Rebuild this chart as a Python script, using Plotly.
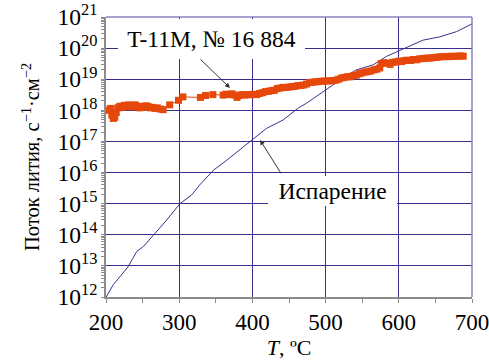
import plotly.graph_objects as go

# Lithium flux from the T-11M limiter, sample No 16 884
t_meas = [204, 206, 208, 210, 212, 214, 216, 219, 222, 225, 228, 231, 234, 237, 240,
          243, 246, 249, 252, 255, 258, 261, 264, 267, 270, 274, 278,
          287, 299, 305, 329, 336, 346,
          360, 364, 368, 372, 376, 379, 382, 386, 390, 394, 398, 402, 406, 410, 414,
          418, 422, 426, 430, 434, 438, 442, 446, 450, 454, 458, 462, 466, 470, 474,
          478, 482, 486, 490, 494, 498, 502, 506, 510, 514, 518, 522, 526, 530, 534,
          538, 542, 546, 550, 554, 558, 562, 566, 570, 574, 576, 580, 584, 588, 592,
          596, 600, 604, 608, 612, 616, 620, 624, 628, 632, 636, 640, 644, 648, 652,
          656, 660, 664, 668, 672, 676, 680, 684, 688]
flux_meas = [1.0e18, 1.15e18, 7.0e17, 5.5e17, 6.0e17, 8.5e17, 1.2e18, 1.35e18, 1.25e18,
             1.45e18, 1.3e18, 1.5e18, 1.35e18, 1.3e18, 1.5e18,
             1.3e18, 1.2e18, 1.35e18, 1.25e18, 1.4e18, 1.3e18, 1.2e18, 1.25e18, 1.15e18,
             1.2e18, 1.1e18, 1.05e18,
             1.5e18, 2.1e18, 2.7e18, 2.6e18, 3.0e18, 3.2e18,
             3.1e18, 3.3e18, 3.2e18, 3.4e18, 3.1e18, 2.6e18, 3.0e18, 3.2e18, 3.1e18,
             3.2e18, 3.2e18, 3.3e18, 3.2e18, 3.5e18, 3.7e18,
             4.0e18, 4.1e18, 4.3e18, 4.4e18, 5.0e18, 5.2e18, 5.5e18, 5.4e18, 5.6e18,
             5.8e18, 5.9e18, 6.2e18, 6.3e18, 6.5e18, 7.0e18,
             7.8e18, 8.0e18, 8.2e18, 8.4e18, 8.6e18, 8.7e18, 8.8e18, 8.9e18, 9.0e18,
             9.3e18, 1.0e19, 1.1e19, 1.15e19, 1.2e19, 1.2e19,
             1.3e19, 1.35e19, 1.5e19, 1.6e19, 1.7e19, 1.75e19, 1.85e19, 2.0e19, 2.1e19,
             2.3e19, 3.2e19, 3.4e19, 3.3e19, 3.0e19, 3.5e19,
             3.6e19, 3.8e19, 3.7e19, 4.0e19, 4.1e19, 4.0e19, 4.3e19, 4.2e19, 4.5e19,
             4.6e19, 4.7e19, 4.8e19, 4.8e19, 5.0e19, 5.1e19,
             5.2e19, 5.3e19, 5.4e19, 5.3e19, 5.5e19, 5.4e19, 5.5e19, 5.6e19, 5.5e19]

# Evaporation flux of lithium
t_evap = [200, 210, 219, 230, 242, 251, 265, 283, 301, 317, 328, 347, 365, 383, 400,
          419, 442, 463, 474, 500, 520, 542, 565, 583, 602, 633, 656, 679, 700]
flux_evap = [9.8e11, 2.5e12, 4.5e12, 9.3e12, 2.9e13, 4.2e13, 9.8e13, 3.0e14, 1.0e15,
             1.9e15, 4.0e15, 1.2e16, 2.5e16, 5.4e16, 1.1e17,
             2.6e17, 4.9e17, 1.2e18, 1.7e18, 4.6e18, 9.5e18, 2.0e19, 2.9e19, 5.4e19,
             8.7e19, 1.8e20, 2.3e20, 3.4e20, 6.0e20]

x_ticks = [200, 300, 400, 500, 600, 700]
y_exps = list(range(12, 22))
y_tickvals = [10.0 ** e for e in y_exps]
y_ticktext = [f"10<sup>{e}</sup>" for e in y_exps]

FONT = "Liberation Serif"
GRID = "#3a2d8f"
FRAME = "#8a80c0"
AXIS = "#8c8c8c"
ORANGE = "#e6470a"

fig = go.Figure()
fig.add_trace(go.Scatter(
    x=t_evap, y=flux_evap, mode="lines",
    line=dict(color="#3b2f8f", width=1), showlegend=False))
fig.add_trace(go.Scatter(
    x=t_meas, y=flux_meas, mode="lines+markers",
    line=dict(color=ORANGE, width=1),
    marker=dict(symbol="square", size=7, color=ORANGE, line=dict(width=0)),
    showlegend=False))

# top and right frame
fig.add_shape(type="line", xref="paper", yref="paper", x0=0, x1=1, y0=1, y1=1,
              line=dict(color=FRAME, width=1.5), layer="above")
fig.add_shape(type="line", xref="paper", yref="paper", x0=1, x1=1, y0=0, y1=1,
              line=dict(color=FRAME, width=1.5), layer="above")

# labels on white boxes that hide the grid behind them
fig.add_annotation(xref="paper", yref="paper", x=0.2883, y=0.9214,
                   xanchor="center", yanchor="middle",
                   text="T-11M, № 16 884", showarrow=False,
                   width=187, height=40, bgcolor="white", borderpad=0, borderwidth=0,
                   font=dict(family=FONT, size=23.5, color="black"))
fig.add_annotation(x=369.4, y=18.72, text="", showarrow=True,
                   axref="pixel", ayref="pixel", ax=-31, ay=-30,
                   arrowhead=2, arrowsize=1, arrowwidth=1, arrowcolor="#333333",
                   standoff=0)
fig.add_annotation(xref="paper", yref="paper", x=0.6189, y=0.3786,
                   xanchor="center", yanchor="middle",
                   text="Испарение", showarrow=False,
                   width=129, height=30, bgcolor="white", borderpad=0, borderwidth=0,
                   font=dict(family=FONT, size=23.5, color="black"))
fig.add_annotation(x=410.4, y=17.05, text="", showarrow=True,
                   axref="pixel", ayref="pixel", ax=22, ay=35,
                   arrowhead=2, arrowsize=1, arrowwidth=1, arrowcolor="#333333",
                   standoff=0)

fig.update_xaxes(
    range=[200, 700], tickmode="array", tickvals=x_ticks,
    showgrid=True, gridcolor=GRID, gridwidth=1,
    showline=True, linecolor=AXIS, linewidth=1.5,
    ticks="outside", ticklen=4, tickcolor=AXIS,
    minor=dict(dtick=50, ticks="outside", ticklen=4, tickcolor=AXIS, showgrid=False),
    tickfont=dict(family=FONT, size=23, color="black"),
    ticklabeloverflow="allow", automargin=False,
    title=dict(text="<i>T</i>, ºC", font=dict(family=FONT, size=22, color="black"),
               standoff=4),
    zeroline=False)
fig.update_yaxes(
    type="log", range=[12, 21], tickmode="array",
    tickvals=y_tickvals, ticktext=y_ticktext,
    showgrid=True, gridcolor=GRID, gridwidth=1,
    showline=True, linecolor=AXIS, linewidth=1.5,
    ticks="outside", ticklen=2, tickcolor=AXIS,
    minor=dict(dtick="D1", ticks="outside", ticklen=3, tickcolor=AXIS, showgrid=False),
    tickfont=dict(family=FONT, size=23.5, color="black"),
    ticklabeloverflow="allow", automargin=False,
    title=dict(text="Поток лития, с<sup>−1</sup>·см<sup>−2</sup>",
               font=dict(family=FONT, size=20.5, color="black"), standoff=12),
    zeroline=False)

fig.update_layout(
    width=489, height=363,
    margin=dict(l=106, r=17, t=17, b=66, autoexpand=False),
    paper_bgcolor="white", plot_bgcolor="white",
    font=dict(family=FONT),
    showlegend=False)

fig.write_html("out.html")
